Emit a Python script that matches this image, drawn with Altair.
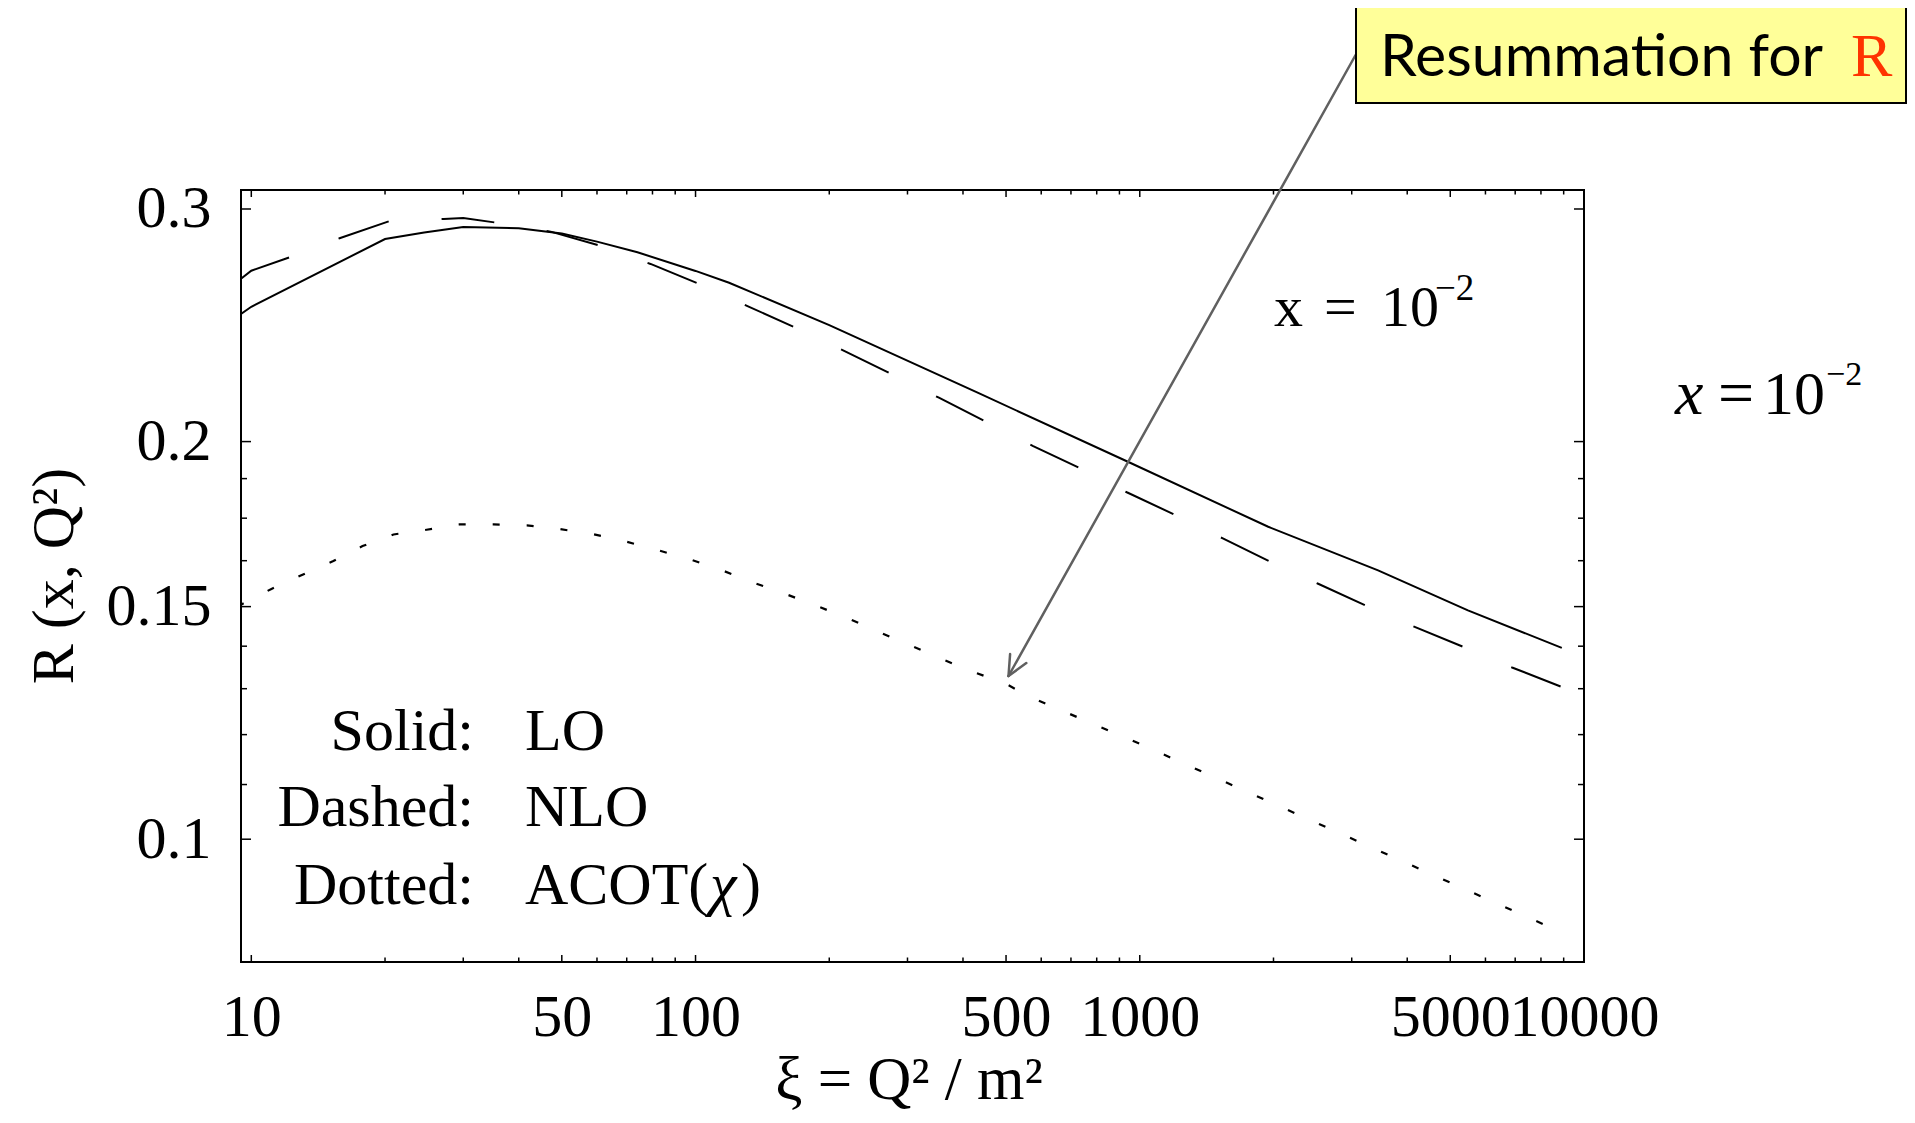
import altair as alt
import pandas as pd

# ---------------- data ----------------
solid_x = [9.48, 10, 20, 24.5, 30, 40, 50, 60, 74, 100, 119, 200, 434, 943,
           1946, 3439, 5479, 8913]
solid_y = [0.2498, 0.2530, 0.2847, 0.2879, 0.2907, 0.2901, 0.2874, 0.2834,
           0.2782, 0.2693, 0.2638, 0.2450, 0.2176, 0.1930, 0.1724, 0.1598,
           0.1490, 0.1396]

dashed_x = [9.48, 10, 12.2, 15.8, 20.5, 27.1, 30, 35.7, 47.2, 61.2, 79.2,
            102.3, 130.9, 168, 216, 276, 353, 449, 574, 735, 935, 1201, 1534,
            1970, 2521, 3249, 4157, 5358, 6888, 8913]
dashed_y = [0.2657, 0.2694, 0.2758, 0.2851, 0.2938, 0.2948, 0.2953, 0.2929,
            0.2884, 0.2813, 0.2726, 0.2631, 0.2533, 0.2439, 0.2343, 0.2250,
            0.2159, 0.2072, 0.1985, 0.1909, 0.1831, 0.1760, 0.1690, 0.1622,
            0.1561, 0.1501, 0.1448, 0.1398, 0.1349, 0.1304]

dotted_x = [9.48, 11.1, 13.0, 15.3, 17.8, 20.9, 24.8, 29.4, 35.1, 41.7, 49.5,
            58.8, 69.4, 82.3, 97, 114.8, 134.3, 158.2, 185.3, 217, 254, 297,
            348, 411, 500, 561, 1000, 2000, 5000, 8913]
dotted_y = [0.1505, 0.1547, 0.1585, 0.1624, 0.1667, 0.1701, 0.1715, 0.1731,
            0.1731, 0.1728, 0.1717, 0.1702, 0.1681, 0.1655, 0.1629, 0.1598,
            0.1565, 0.1535, 0.1504, 0.1473, 0.1439, 0.1407, 0.1375, 0.1343,
            0.1311, 0.1283, 0.1181, 0.1064, 0.0927, 0.0850]

x_labels = [10, 50, 100, 500, 1000, 5000, 10000]
x_minor = [20, 30, 40, 60, 70, 80, 90, 200, 300, 400, 600, 700, 800, 900,
           2000, 3000, 4000, 6000, 7000, 8000, 9000]
y_labels = [0.1, 0.15, 0.2, 0.3]
y_minor = [0.11, 0.12, 0.13, 0.14, 0.1625, 0.175, 0.1875]

# ---------------- layout ----------------
W, H = 1343, 772
SERIF = "Liberation Serif"
FS = 60

xscale = alt.Scale(type="log", domain=[9.48, 10000], nice=False, zero=False)
yscale = alt.Scale(type="log", domain=[0.08073, 0.3101], nice=False, zero=False)

xaxis = alt.Axis(values=x_labels, format="d", ticks=False, domain=False,
                 grid=False, title=None, labelFont=SERIF, labelFontSize=FS,
                 labelColor="black", labelPadding=26, labelFlush=False,
                 labelOverlap=False)
yaxis = alt.Axis(values=y_labels, format="~g", ticks=False, domain=False,
                 grid=False, title=None, labelFont=SERIF, labelFontSize=FS,
                 labelColor="black", labelPadding=30, labelFlush=False,
                 labelOverlap=False)


def X(field="x"):
    return alt.X(f"{field}:Q", scale=xscale, axis=xaxis)


def Y(field="y"):
    return alt.Y(f"{field}:Q", scale=yscale, axis=yaxis)


def curve(xs, ys, dash=None, offset=None, width=2.0):
    kw = dict(color="black", strokeWidth=width, clip=True, strokeCap="butt")
    if dash is not None:
        kw["strokeDash"] = dash
    if offset is not None:
        kw["strokeDashOffset"] = offset
    return alt.Chart(pd.DataFrame({"x": xs, "y": ys})).mark_line(**kw).encode(
        x=X(), y=Y())


def xticks(vals, length):
    df = pd.DataFrame({"x": vals})
    bottom = alt.Chart(df).mark_rule(color="black", strokeWidth=1.5).encode(
        x=X(), y=alt.value(H), y2=alt.value(H - length))
    top = alt.Chart(df).mark_rule(color="black", strokeWidth=1.5).encode(
        x=X(), y=alt.value(0), y2=alt.value(length))
    return [bottom, top]


def yticks(vals, length):
    df = pd.DataFrame({"y": vals})
    left = alt.Chart(df).mark_rule(color="black", strokeWidth=1.5).encode(
        y=Y(), x=alt.value(0), x2=alt.value(length))
    right = alt.Chart(df).mark_rule(color="black", strokeWidth=1.5).encode(
        y=Y(), x=alt.value(W - length), x2=alt.value(W))
    return [left, right]


def txt(s, x, y, size=FS, font=SERIF, align="left", baseline="alphabetic",
        color="black", style="normal", angle=0):
    return alt.Chart(pd.DataFrame({"t": [s]})).mark_text(
        align=align, baseline=baseline, font=font, fontSize=size,
        color=color, fontStyle=style, angle=angle).encode(
        x=alt.value(x), y=alt.value(y), text="t:N")


def seg(x1, y1, x2, y2, color="#606060", width=2.5):
    return alt.Chart(pd.DataFrame({"a": [0]})).mark_rule(
        color=color, strokeWidth=width, strokeCap="round").encode(
        x=alt.value(x1), y=alt.value(y1), x2=alt.value(x2), y2=alt.value(y2))


layers = []
layers.append(curve(solid_x, solid_y))
layers.append(curve(dashed_x, dashed_y, dash=[53, 53]))
layers.append(curve(dotted_x, dotted_y, dash=[7, 27], offset=4, width=2.2))
layers += xticks(x_labels, 7)
layers += xticks(x_minor, 4.5)
layers += yticks(y_labels, 10)
layers += yticks(y_minor, 6)

# axis titles
layers.append(txt("ξ = Q² / m²", 668, 909, size=61, align="center"))
layers.append(txt("R (x, Q²)", -168, 386, size=FS, align="center", angle=270))

# in-plot legend text
layers.append(txt("Solid:", 233, 560, align="right"))
layers.append(txt("LO", 284, 560))
layers.append(txt("Dashed:", 233, 636, align="right"))
layers.append(txt("NLO", 284, 636))
layers.append(txt("Dotted:", 233, 714, align="right"))
layers.append(txt("ACOT(", 284, 714))
layers.append(txt("χ", 469, 714, style="italic"))
layers.append(txt(")", 500, 714))

# in-plot x = 10^-2
layers.append(txt("x", 1033, 136, size=58))
layers.append(txt("=", 1083, 136, size=58))
layers.append(txt("10", 1140, 136, size=58))
layers.append(txt("−2", 1194, 110, size=37))

# outside x = 10^-2
layers.append(txt("x", 1434, 224, size=64, style="italic"))
layers.append(txt("=", 1477, 224, size=64))
layers.append(txt("10", 1522, 224, size=62))
layers.append(txt("−2", 1585, 195, size=34))

# arrow
tipx, tipy = 767.5, 486
layers.append(seg(1114.6, -135, tipx, tipy))
layers.append(seg(tipx, tipy, 785.3, 473.1))
layers.append(seg(tipx, tipy, 769.1, 464.1))

# callout box
box = alt.Chart(pd.DataFrame({"a": [0]})).mark_rect(
    fill="#FFFF99", stroke="black", strokeWidth=2).encode(
    x=alt.value(1115), x2=alt.value(1665), y=alt.value(-183), y2=alt.value(-87))
layers.append(box)
layers.append(txt("Resummation for", 1139, -114, size=59, font="Lato"))
layers.append(txt("R", 1610, -114, size=62, color="#FF3300"))

chart = alt.layer(*layers).properties(
    width=W, height=H,
    autosize=alt.AutoSizeParams(type="none"),
    padding={"left": 233, "top": 182, "right": 323, "bottom": 153},
    background="white",
).configure_view(stroke="black", strokeWidth=2)

chart.save("out.html", embed_options={"renderer": "svg", "actions": False})
